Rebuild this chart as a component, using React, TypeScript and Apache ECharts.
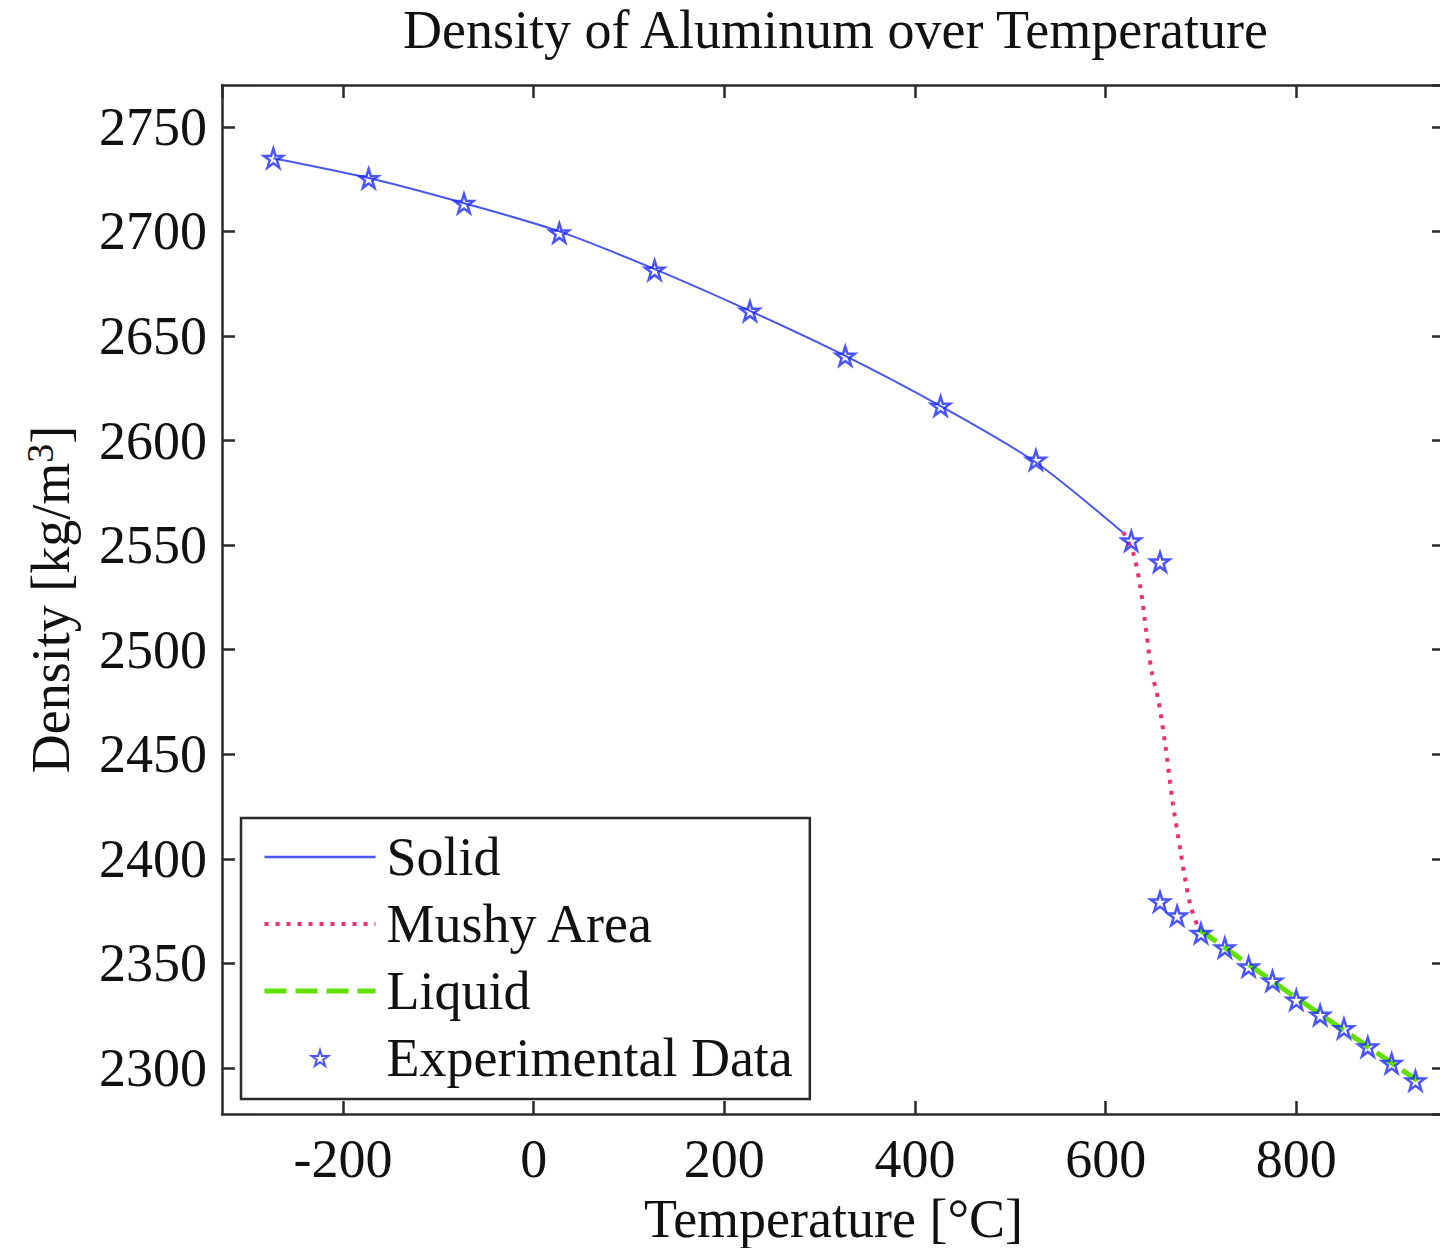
import React, { useEffect, useRef } from "react";
import * as echarts from "echarts";

const solidT = [-273.15, -173.15, -73.15, 26.85, 126.85, 226.85, 326.85, 426.85, 526.85, 618];
const solidRho = [2735, 2725.5, 2713.5, 2700, 2682, 2662, 2640.5, 2616.5, 2589.5, 2556];

const mushyT = [618.5, 629, 636.4, 642.7, 648, 655.3, 662.6, 670, 678.4, 683.6, 688.9, 697.3];
const mushyRho = [2556.2, 2546.1, 2529.8, 2508.3, 2490.2, 2475.8, 2454.3, 2428, 2404.1, 2389.8, 2377.8, 2366.8];

const liquidT = [697.3, 750, 800, 850, 927];
const liquidRho = [2366.5, 2349.5, 2333.5, 2318, 2294];

const expT = [-273.15, -173.15, -73.15, 26.85, 126.85, 226.85, 326.85, 426.85, 526.85, 626.85, 657, 657, 675, 700, 725, 750, 775, 800, 825, 850, 875, 900, 925];
const expRho = [2735, 2725.3, 2713.4, 2699.3, 2681.5, 2661.9, 2640.4, 2616.5, 2590.7, 2552, 2542, 2379.5, 2372.8, 2364.4, 2357.5, 2348.4, 2341.6, 2332.5, 2325.3, 2318.9, 2310.1, 2302.2, 2293.9];

const seriesNames = ["Solid", "Mushy Area", "Liquid", "Experimental Data"];
const titleText = "Density of Aluminum over Temperature";
const xName = "Temperature [°C]";

const FONT = "Liberation Serif";
const STAR = "path://M50,2 L61,36 L97,36 L68,57 L79,92 L50,71 L21,92 L32,57 L3,36 L39,36 Z";

const zip = (a: number[], b: number[]) => a.map((v, i) => [v, b[i]]);

export default function App() {
  const ref = useRef<HTMLDivElement>(null);
  useEffect(() => {
    if (!ref.current) return;
    const chart = echarts.init(ref.current, null, { renderer: "svg" });
    const axisLine = { show: true, onZero: false, lineStyle: { color: "#2a2a2a", width: 2.5 } };
    const tick = { show: true, inside: true, length: 13, lineStyle: { color: "#2a2a2a", width: 2.5 } };
    const label = {
      fontFamily: FONT,
      fontSize: 54,
      color: "#111",
      showMinLabel: false,
      showMaxLabel: false,
      formatter: (v: number) => String(v),
    };
    const xCommon = { type: "value", min: -327, max: 956, splitNumber: 6, splitLine: { show: false }, axisLine, axisTick: tick };
    const yCommon = { type: "value", min: 2278, max: 2770, splitNumber: 10, splitLine: { show: false }, axisLine, axisTick: tick };
    const hiddenSym = { opacity: 0 };
    chart.setOption({
      animation: false,
      backgroundColor: "#ffffff",
      title: {
        text: titleText,
        left: 403,
        top: 3,
        padding: 0,
        textStyle: { fontFamily: FONT, fontSize: 54, fontWeight: "normal", color: "#111" },
      },
      grid: { left: 222, top: 85, width: 1223, height: 1029, containLabel: false, outerBoundsMode: "none" },
      xAxis: [
        {
          ...xCommon,
          position: "bottom",
          axisLabel: { ...label, margin: 18 },
          name: xName,
          nameLocation: "middle",
          nameGap: 78,
          nameTextStyle: { fontFamily: FONT, fontSize: 54, color: "#111" },
        },
        { ...xCommon, position: "top", axisLabel: { show: false } },
      ],
      yAxis: [
        {
          ...yCommon,
          position: "left",
          axisLabel: { ...label, margin: 15 },
          name: "Density [kg/m{sup|3}]",
          nameLocation: "middle",
          nameGap: 141,
          nameTextStyle: {
            fontFamily: FONT,
            fontSize: 54,
            color: "#111",
            lineHeight: 60,
            rich: { sup: { fontFamily: FONT, fontSize: 38, lineHeight: 38, verticalAlign: "top", color: "#111" } },
          },
        },
        { ...yCommon, position: "right", axisLabel: { show: false } },
      ],
      legend: {
        orient: "vertical",
        left: 241,
        top: 818,
        data: [
          { name: seriesNames[0], itemStyle: hiddenSym, lineStyle: { width: 2.5 } },
          { name: seriesNames[1], itemStyle: hiddenSym, lineStyle: { width: 4 } },
          { name: seriesNames[2], itemStyle: hiddenSym, lineStyle: { width: 5 } },
          { name: seriesNames[3] },
        ],
        itemWidth: 111,
        itemHeight: 16,
        itemGap: 7,
        padding: [9, 17, 11, 21],
        borderColor: "#2a2a2a",
        borderWidth: 2.5,
        backgroundColor: "#ffffff",
        textStyle: { fontFamily: FONT, fontSize: 54, color: "#111", lineHeight: 60, padding: [0, 0, 0, 6] },
      },
      series: [
        {
          name: "Solid",
          type: "line",
          data: zip(solidT, solidRho),
          symbol: "none",
          smooth: 0.3,
          lineStyle: { color: "#4a56f2", width: 2 },
          itemStyle: { color: "#4a56f2" },
          z: 2,
        },
        {
          name: "Mushy Area",
          type: "line",
          data: zip(mushyT, mushyRho),
          symbol: "none",
          smooth: 0.3,
          lineStyle: { color: "#ee2f72", width: 4, type: [4, 7] },
          itemStyle: { color: "#ee2f72" },
          z: 2,
        },
        {
          name: "Liquid",
          type: "line",
          data: zip(liquidT, liquidRho),
          symbol: "none",
          lineStyle: { color: "#5fe000", width: 5, type: [22, 9] },
          itemStyle: { color: "#5fe000" },
          z: 2,
        },
        {
          name: "Experimental Data",
          type: "scatter",
          data: zip(expT, expRho),
          symbol: STAR,
          symbolSize: 19,
          itemStyle: { color: "rgba(255,255,255,0)", borderColor: "#1d2bff", borderWidth: 2.5 },
          z: 5,
        },
      ],
    });
    return () => chart.dispose();
  }, []);
  return (
    <div
      ref={ref}
      style={{ position: "absolute", left: 0, top: 0, width: 1440, height: 1248, background: "#fff" }}
    />
  );
}
